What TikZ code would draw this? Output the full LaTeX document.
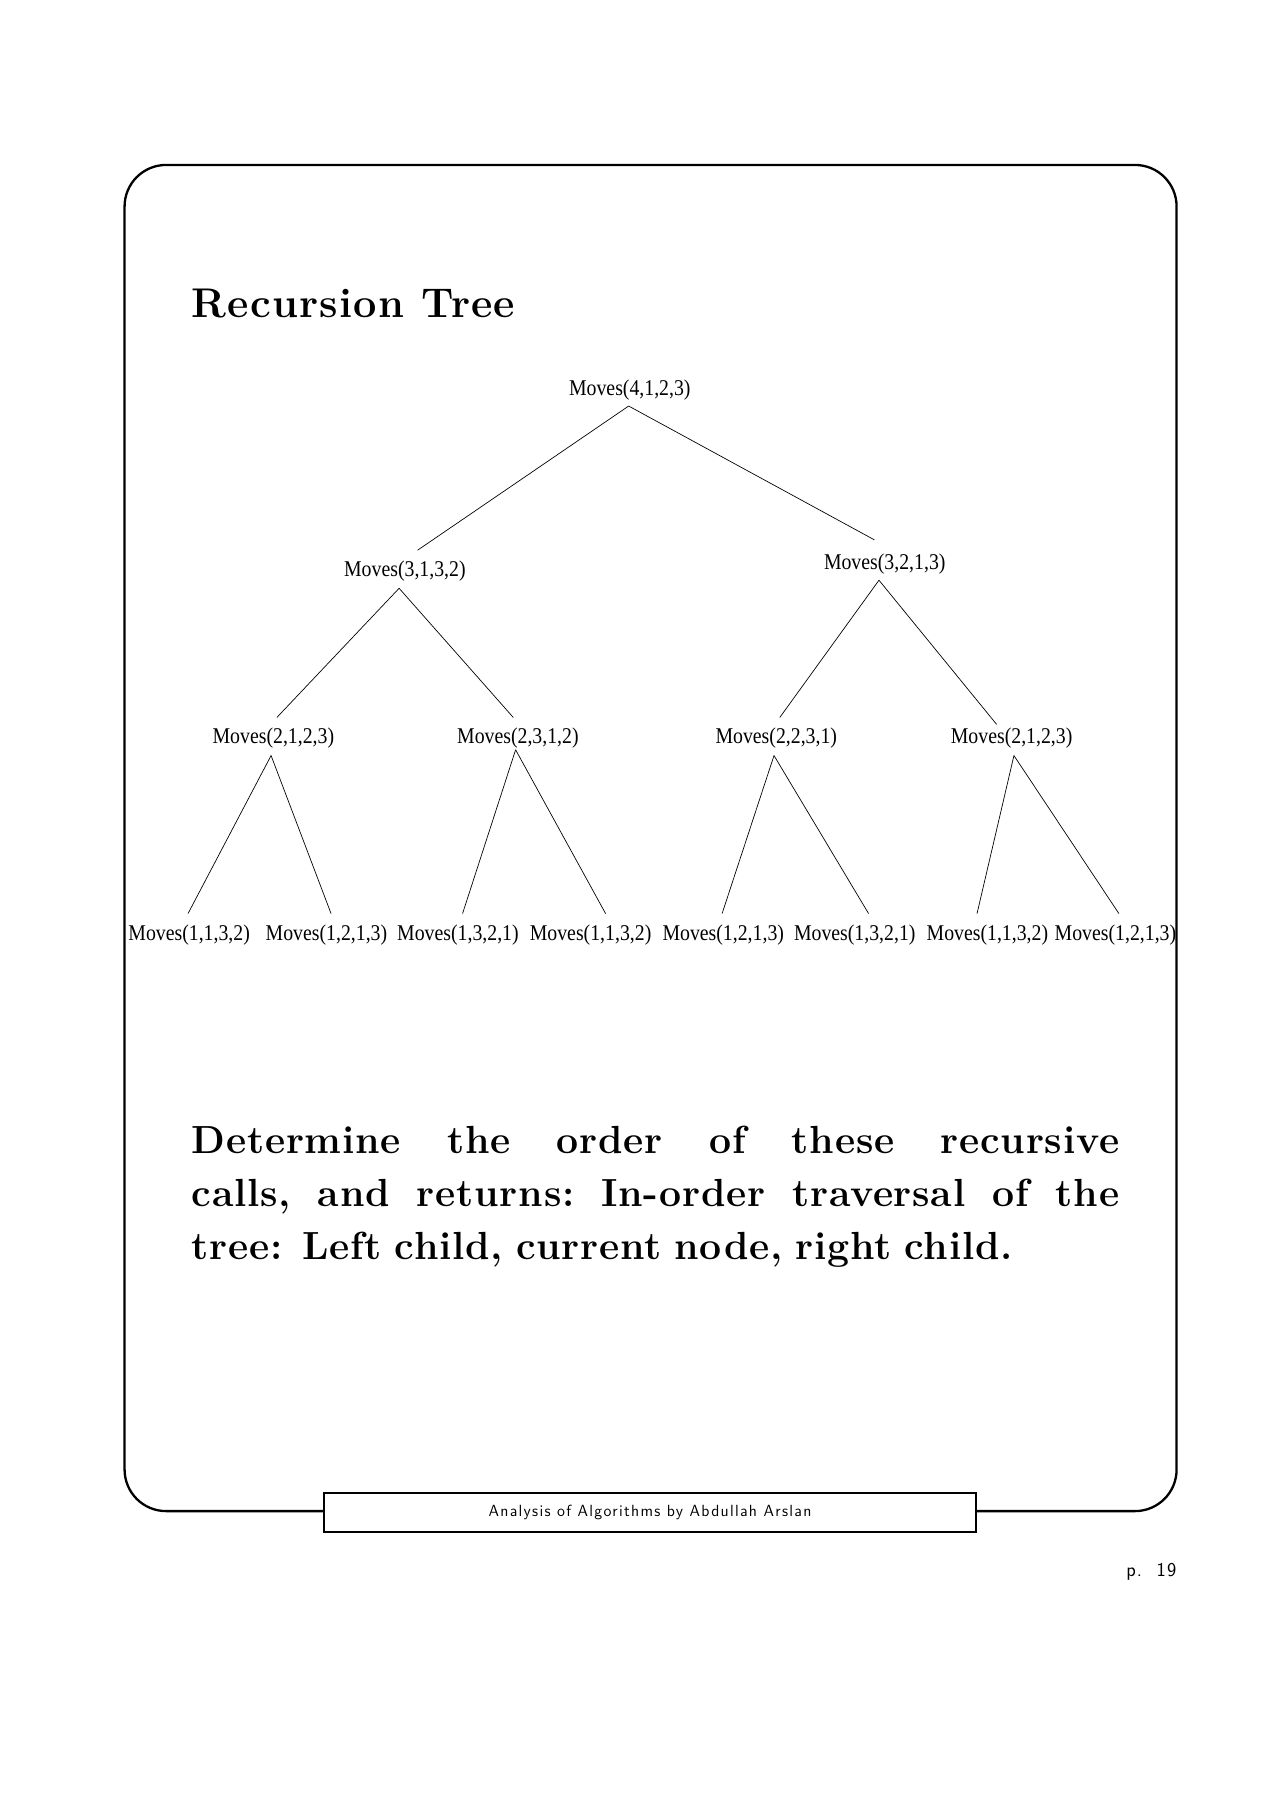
\documentclass[tikz,border=0pt]{standalone}
\usepackage{fontspec}
\setmainfont{Latin Modern Roman}
\setsansfont{Latin Modern Sans}
\newfontfamily\tfont{Liberation Serif}
\newcommand{\mvtxt}[1]{\scalebox{0.88}[1]{#1}}
\begin{document}
\begin{tikzpicture}[x=1pt,y=-1pt,
  mv/.style={inner sep=0pt,font=\fontsize{19.5}{19}\tfont},
  edge/.style={line width=0.6pt}]
\useasboundingbox (0,0) rectangle (1110,1570);
\draw[line width=2pt,rounded corners=36pt] (108,143) rectangle (1020,1310);
\node[draw,fill=white,line width=1.8pt,minimum width=565pt,minimum height=34pt,inner sep=0pt,font=\fontsize{14}{14}\sffamily\addfontfeature{LetterSpace=8}] (foot) at (563.5,1311) {Analysis of Algorithms by Abdullah Arslan};
\node[anchor=east,inner sep=0pt,font=\fontsize{17}{17}\sffamily\addfontfeature{LetterSpace=6}] (pg) at (1020,1363) {p.\ \ 19};
\node[anchor=base west,inner sep=0pt,font=\fontsize{36}{36}\bfseries\addfontfeature{LetterSpace=3}] (title) at (166,275) {Recursion Tree};
\node[anchor=north west,inner sep=0pt,text width=804pt,align=left,font=\fontsize{34}{46}\bfseries\addfontfeature{LetterSpace=2}] (body) at (166,976) {\makebox[804pt]{Determine\hfill the\hfill order\hfill of\hfill these\hfill recursive}\\\makebox[804pt]{calls,\hfill and\hfill returns:\hfill In-order\hfill traversal\hfill of\hfill the}\\tree: Left child, current node, right child.};
% tree
\node[mv] (r) at (546,338) {\mvtxt{Moves(4,1,2,3)}};
\node[mv] (a) at (351,495) {\mvtxt{Moves(3,1,3,2)}};
\node[mv] (b) at (767,489) {\mvtxt{Moves(3,2,1,3)}};
\node[mv] (a1) at (237,640) {\mvtxt{Moves(2,1,2,3)}};
\node[mv] (a2) at (449,640) {\mvtxt{Moves(2,3,1,2)}};
\node[mv] (b1) at (673,640) {\mvtxt{Moves(2,2,3,1)}};
\node[mv] (b2) at (877,640) {\mvtxt{Moves(2,1,2,3)}};
\foreach \n/\x/\t in {l1/164/{Moves(1,1,3,2)},l2/283/{Moves(1,2,1,3)},l3/397/{Moves(1,3,2,1)},l4/512/{Moves(1,1,3,2)},l5/627/{Moves(1,2,1,3)},l6/741/{Moves(1,3,2,1)},l7/856/{Moves(1,1,3,2)},l8/967/{Moves(1,2,1,3)}}
  \node[mv] (\n) at (\x,811) {\mvtxt{\t}};
\coordinate (rs) at (545,352);
\coordinate (an) at (362,477); \coordinate (bn) at (758,468);
\coordinate (as) at (346,510); \coordinate (bs) at (762,503);
\coordinate (a1n) at (240,622); \coordinate (a2n) at (445,622);
\coordinate (b1n) at (676,622); \coordinate (b2n) at (864,628);
\coordinate (a1s) at (235,655); \coordinate (a2s) at (447,650);
\coordinate (b1s) at (671,655); \coordinate (b2s) at (879,655);
\foreach \n/\x in {l1/163,l2/287,l3/401,l4/525,l5/626,l6/753,l7/847,l8/970}
  \coordinate (\n n) at (\x,792);
\draw[edge] (rs) -- (an); \draw[edge] (rs) -- (bn);
\draw[edge] (as) -- (a1n); \draw[edge] (as) -- (a2n);
\draw[edge] (bs) -- (b1n); \draw[edge] (bs) -- (b2n);
\draw[edge] (a1s) -- (l1n); \draw[edge] (a1s) -- (l2n);
\draw[edge] (a2s) -- (l3n); \draw[edge] (a2s) -- (l4n);
\draw[edge] (b1s) -- (l5n); \draw[edge] (b1s) -- (l6n);
\draw[edge] (b2s) -- (l7n); \draw[edge] (b2s) -- (l8n);
\end{tikzpicture}
\end{document}
